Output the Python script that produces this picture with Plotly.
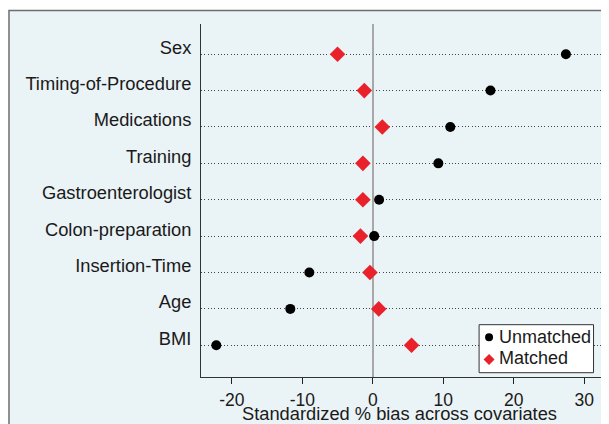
import plotly.graph_objects as go

covariates = ["Sex", "Timing-of-Procedure", "Medications", "Training",
              "Gastroenterologist", "Colon-preparation", "Insertion-Time", "Age", "BMI"]
unmatched = [27.4, 16.7, 11.0, 9.3, 0.9, 0.2, -9.0, -11.7, -22.2]
matched = [-5.0, -1.2, 1.35, -1.4, -1.4, -1.75, -0.4, 0.85, 5.5]
x_ticks = [-20, -10, 0, 10, 20, 30]
legend_labels = ["Unmatched", "Matched"]
x_title = "Standardized % bias across covariates"

n = len(covariates)
ypos = [n - i for i in range(n)]

FONT = "Liberation Sans, Arial, sans-serif"
RED = "#e8212a"

# page offset of the figure (default body margin of the html page)
OFF = 8
PL, PR, PT, PB = 200.5, 601.5, 24, 377  # plot area in page pixels


def px(x):
    return (x - PL) / (PR - PL)


def py(y):
    return (PB - y) / (PB - PT)


fig = go.Figure()
fig.add_trace(go.Scatter(
    x=unmatched, y=ypos, mode="markers", name=legend_labels[0],
    marker=dict(symbol="circle", size=10, color="black"),
))
fig.add_trace(go.Scatter(
    x=matched, y=ypos, mode="markers", name=legend_labels[1],
    marker=dict(symbol="diamond", size=12, color=RED),
))

# outer panel (light blue box with dark border)
fig.add_shape(type="rect", xref="paper", yref="paper",
              x0=px(8), x1=px(640), y0=py(460), y1=py(10.5),
              fillcolor="#eaf3f6", line=dict(color="#6e6e6e", width=1.5),
              layer="below")

# legend box
fig.add_shape(type="rect", xref="paper", yref="paper",
              x0=px(479.3), x1=px(594), y0=py(372.7), y1=py(324.7),
              fillcolor="white", line=dict(color="#333333", width=1), layer="above")
# legend keys
fig.add_shape(type="circle", xref="paper", yref="paper",
              x0=px(485.3), x1=px(493.3), y0=py(341.3), y1=py(333.3),
              fillcolor="black", line=dict(color="black", width=0), layer="above")
cx, cy, r = 489.3, 359.5, 5.5
fig.add_shape(type="path", xref="paper", yref="paper",
              path=f"M {px(cx - r)} {py(cy)} L {px(cx)} {py(cy - r)} L {px(cx + r)} {py(cy)} L {px(cx)} {py(cy + r)} Z",
              fillcolor=RED, line=dict(color=RED, width=0), layer="above")
for label, yy in zip(legend_labels, [336.7, 358.0]):
    fig.add_annotation(text=label, xref="paper", yref="paper",
                       x=px(497), y=py(yy), xanchor="left", yanchor="middle",
                       showarrow=False, font=dict(size=18, family=FONT, color="#1a1a1a"))

# x-axis title
fig.add_annotation(text=x_title, xref="paper", yref="paper",
                   x=px(399), y=py(413.5), xanchor="center", yanchor="middle",
                   showarrow=False, font=dict(size=18.3, family=FONT, color="#1a1a1a"))

fig.update_layout(
    width=609 - OFF, height=424 - OFF,
    margin=dict(l=PL - OFF, r=609 - PR, t=PT - OFF, b=424 - PB, autoexpand=False),
    paper_bgcolor="white", plot_bgcolor="white",
    font=dict(family=FONT, size=17, color="#1a1a1a"),
    showlegend=False,
    xaxis=dict(
        range=[-24.37, 32.38], tickvals=x_ticks, ticktext=[str(v) for v in x_ticks],
        showgrid=False, zeroline=True, zerolinecolor="#a8a8a8", zerolinewidth=1.5,
        showline=True, linecolor="#333333", linewidth=1,
        ticks="outside", ticklen=6, tickcolor="#222222", tickwidth=1.2,
        tickfont=dict(size=17.5), ticklabelstandoff=1, automargin=False,
    ),
    yaxis=dict(
        range=[0.128, 9.83], tickvals=ypos, ticktext=covariates,
        showgrid=True, gridcolor="#444444", gridwidth=1, griddash="1px,2.3px",
        zeroline=False, showline=True, linecolor="#333333", linewidth=1,
        ticks="outside", ticklen=5, tickcolor="rgba(0,0,0,0)",
        tickfont=dict(size=18.3), ticklabelshift=-7, automargin=False,
    ),
)

fig.write_html("out.html")
